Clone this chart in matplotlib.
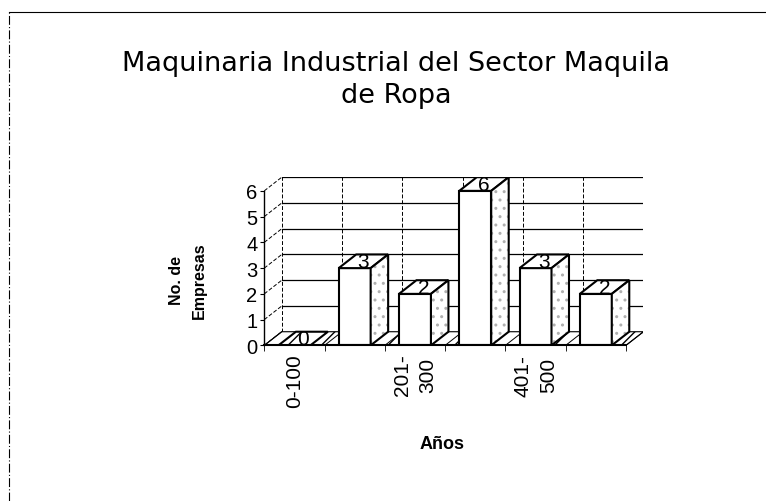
import matplotlib.pyplot as plt
from matplotlib.patches import Polygon
from matplotlib.lines import Line2D

categorias = ['0-100', '101-200', '201-300', '301-400', '401-500', '501-600']
etiquetas = ['0-100', '', '201-\n300', '', '401-\n500', '']
empresas = [0, 3, 2, 6, 3, 2]

plt.rcParams['font.family'] = ['Liberation Sans', 'DejaVu Sans']

fig = plt.figure(figsize=(7.66, 5.02), dpi=100)
ax = fig.add_axes([0.345, 0.310, 0.495, 0.335])

# profundidad del efecto 3D (unidades de datos)
DX, DY = 0.29, 0.53
w = 0.53
n = len(categorias)
x = list(range(n))
x0, x1 = -0.5, n - 0.5

ax.set_xlim(x0, x1 + DX)
ax.set_ylim(0, 6 + DY)

# piso con rayado
piso = Polygon([(x0, 0), (x1, 0), (x1 + DX, DY), (x0 + DX, DY)], closed=True,
               facecolor='white', edgecolor='black', hatch='/', lw=0.8, zorder=1)
ax.add_patch(piso)

# pared del fondo y pared izquierda
for i in range(7):
    ax.add_line(Line2D([x0 + DX, x1 + DX], [i + DY, i + DY], color='black', lw=0.9, zorder=0.5))
    ax.add_line(Line2D([x0, x0 + DX], [i, i + DY], color='black', lw=0.7, ls=(0, (4, 2)), zorder=0.5))
for k in range(n + 1):
    b = x0 + k
    ax.add_line(Line2D([b + DX, b + DX], [DY, 6 + DY], color='black', lw=0.7,
                       ls='-' if k == n else (0, (4, 2)), zorder=0.5))
    ax.add_line(Line2D([b, b + DX], [0, DY], color='black', lw=0.7, zorder=1.5))

# barras con caras superior y lateral
ax.bar(x, empresas, width=w, color='white', edgecolor='black', lw=1.5, zorder=3)
for xi, v in zip(x, empresas):
    izq, der = xi - w / 2, xi + w / 2
    top = Polygon([(izq, v), (der, v), (der + DX, v + DY), (izq + DX, v + DY)], closed=True,
                  facecolor='white', edgecolor='black', lw=1.5, zorder=3,
                  hatch='/' if v == 0 else None)
    ax.add_patch(top)
    if v > 0:
        lado_pts = [(der, 0), (der + DX, DY), (der + DX, v + DY), (der, v)]
        ax.add_patch(Polygon(lado_pts, closed=True, facecolor='white', edgecolor='#b0b0b0',
                             lw=0, hatch='..', zorder=3))
        ax.add_patch(Polygon(lado_pts, closed=True, fill=False, edgecolor='black', lw=1.5, zorder=3.1))
    ax.text(xi + DX / 2, v + DY / 2, str(v), ha='center', va='center', fontsize=15, zorder=4)

for s in ['top', 'right']:
    ax.spines[s].set_visible(False)
ax.spines['left'].set_bounds(0, 6)
ax.spines['bottom'].set_bounds(x0, x1)
ax.spines['left'].set_linewidth(1.0)
ax.spines['bottom'].set_linewidth(1.5)
ax.spines['bottom'].set_zorder(5)

ax.set_yticks(range(7))
ax.tick_params(axis='y', labelsize=14.5, length=3, pad=2)
ax.set_xticks(x)
ax.set_xticklabels(etiquetas, rotation=90, fontsize=15, va='top', ha='center',
                   multialignment='center', linespacing=1.45)
ax.set_xticks([x0 + k for k in range(n + 1)], minor=True)
ax.tick_params(axis='x', which='major', length=0, pad=6)
ax.tick_params(axis='x', which='minor', length=4)

fig.text(188 / 766, 1 - 281 / 502, 'No. de\nEmpresas', rotation=90, ha='center', va='center',
         fontsize=11.5, fontweight='bold', linespacing=1.7)
fig.text(442 / 766, 1 - 445 / 502, 'Años', ha='center', va='center', fontsize=13, fontweight='bold')

fig.text(0.517, 0.841, 'Maquinaria Industrial del Sector Maquila\nde Ropa', ha='center', va='center',
         fontsize=19.5, linespacing=1.3, family=['DejaVu Sans'])

# borde del área del gráfico
fig.add_artist(Line2D([0.012, 1.0], [0.974, 0.974], color='black', lw=0.8))
fig.add_artist(Line2D([0.012, 0.012], [0.0, 0.974], color='black', lw=0.8, ls=(0, (8, 2, 1, 2))))

fig.savefig('out.png', dpi=100)
